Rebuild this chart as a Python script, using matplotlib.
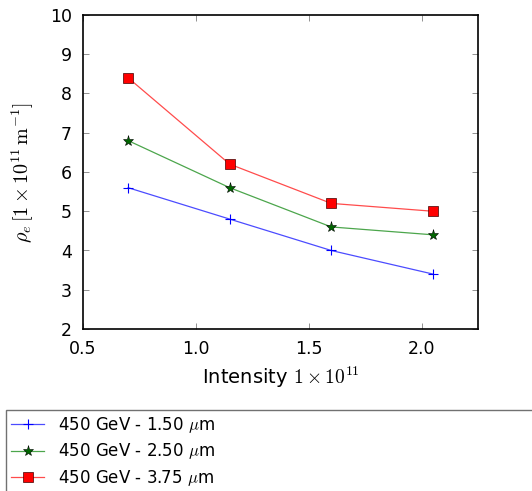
import matplotlib
matplotlib.use('Agg')
import matplotlib.pyplot as plt

plt.rcParams['mathtext.fontset'] = 'cm'

# intensity in units of 1e11
intensity = [0.7, 1.15, 1.6, 2.05]
rho_150 = [5.6, 4.8, 4.0, 3.4]
rho_250 = [6.8, 5.6, 4.6, 4.4]
rho_375 = [8.4, 6.2, 5.2, 5.0]
labels = [r'450 GeV - 1.50 $\mu$m', r'450 GeV - 2.50 $\mu$m', r'450 GeV - 3.75 $\mu$m']

fig = plt.figure(figsize=(5.32, 4.91), dpi=100)
ax = fig.add_axes([83/532., 1-329/491., 395/532., 314/491.])

ax.plot(intensity, rho_150, color=(0, 0, 1, 0.7), lw=0.9, marker='+', ms=7,
        mec='b', mew=0.8, label=labels[0])
ax.plot(intensity, rho_250, color=(0, 0.5, 0, 0.7), lw=0.9, marker='*', ms=8,
        mfc=(0, 0.4, 0), mec='k', mew=0.4, label=labels[1])
ax.plot(intensity, rho_375, color=(1, 0, 0, 0.7), lw=0.9, marker='s', ms=7.5,
        mfc='r', mec=(0.25, 0, 0), mew=0.5, label=labels[2])

ax.set_xlim(0.5, 2.25)
ax.set_ylim(2, 10)
ax.set_xticks([0.5, 1.0, 1.5, 2.0])
ax.set_yticks([2, 3, 4, 5, 6, 7, 8, 9, 10])
ax.tick_params(direction='in', labelsize=12.5, length=4, width=0.5, color='0.4',
               top=True, right=True, pad=8)
for s in ax.spines.values():
    s.set_linewidth(1.2)

ax.set_xlabel(r'Intensity $1\times10^{11}$', fontsize=14, labelpad=5)
ax.set_ylabel(r'$\rho_e\,[1\times10^{11}\,\mathrm{m}^{-1}]$', fontsize=14.5, labelpad=10)

fig.legend(loc='upper left', bbox_to_anchor=(6/532., 0.0, 1.2, 1-410/491.),
           mode='expand', fontsize=12, handlelength=2.0, borderaxespad=0.,
           borderpad=0.3, fancybox=False, edgecolor='0.3', labelspacing=0.38,
           numpoints=1)

plt.savefig('out.png', dpi=100)
